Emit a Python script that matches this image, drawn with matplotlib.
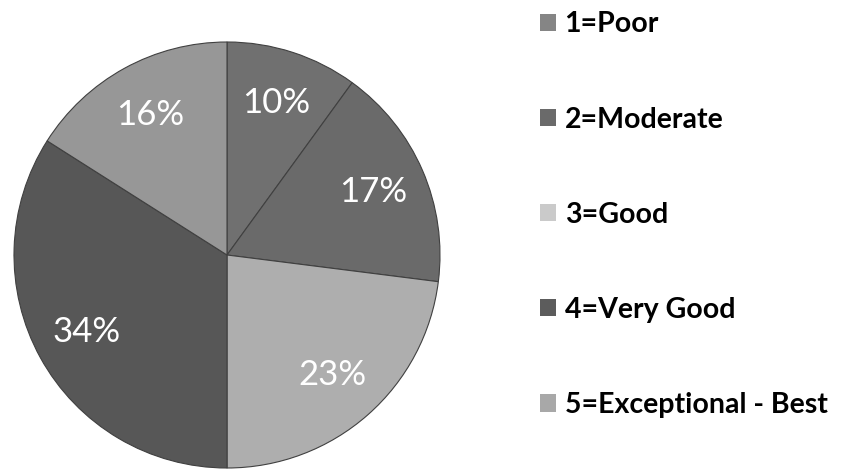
import matplotlib.pyplot as plt
from matplotlib.patches import Patch

plt.rcParams['font.family'] = ['Lato', 'DejaVu Sans']

# ratings and shares (percent)
labels = ['1=Poor', '2=Moderate', '3=Good', '4=Very Good', '5=Exceptional - Best']
shares = [10, 17, 23, 34, 16]
colors = ['#707070', '#6a6a6a', '#aeaeae', '#575757', '#979797']
legend_colors = ['#858585', '#6a6a6a', '#cacaca', '#5c5c5c', '#a8a8a8']

fig = plt.figure(figsize=(8.44, 4.72), dpi=100)
ax = fig.add_axes([14 / 844, 4 / 472, 426 / 844, 426 / 472])

wedges, texts, autotexts = ax.pie(
    shares, colors=colors, startangle=90, counterclock=False,
    autopct='%d%%', pctdistance=0.75,
    wedgeprops=dict(edgecolor='#404040', linewidth=0.8),
    textprops=dict(color='white', fontsize=25),
)
ax.set_xlim(-1, 1)
ax.set_ylim(-1, 1)
ax.set_aspect('equal')

handles = [Patch(facecolor=c, edgecolor='none') for c in legend_colors]
fig.legend(handles, labels, loc='upper left', bbox_to_anchor=(529 / 844, 1),
           frameon=False, prop=dict(size=20.5, weight='bold'),
           handlelength=0.55, handleheight=0.55, handletextpad=0.3,
           labelspacing=2.43, borderaxespad=0)

fig.savefig('out.png', dpi=100, facecolor='white')
